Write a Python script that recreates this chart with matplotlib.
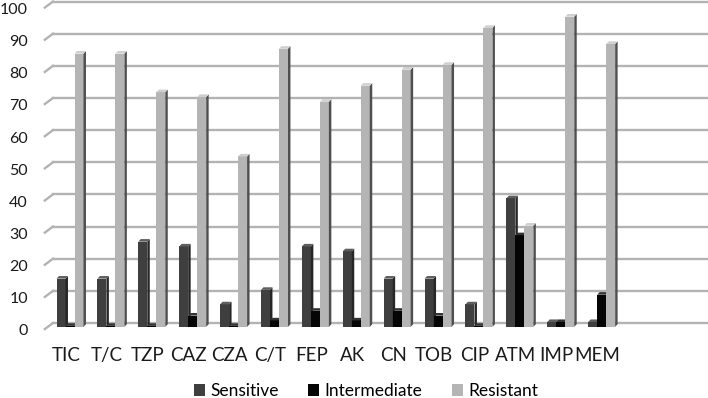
import matplotlib.pyplot as plt
from matplotlib.patches import Polygon
from matplotlib.transforms import ScaledTranslation, blended_transform_factory

categories = ['TIC', 'T/C', 'TZP', 'CAZ', 'CZA', 'C/T', 'FEP', 'AK', 'CN', 'TOB',
              'CIP', 'ATM', 'IMP', 'MEM']
sensitive = [15, 15, 26.5, 25, 7, 11.5, 25, 23.5, 15, 15, 7, 40, 1.5, 1.5]
intermediate = [0.3, 0.3, 0.3, 3.5, 0.3, 2, 5, 2, 5, 3.5, 0.3, 28.5, 1.5, 10]
resistant = [85, 85, 73, 71.5, 53, 86.5, 70, 75, 80, 81.5, 93, 31.5, 96.5, 88]
series_names = ['Sensitive', 'Intermediate', 'Resistant']

plt.rcParams['font.family'] = ['Lato', 'DejaVu Sans']

fig = plt.figure(figsize=(7.08, 3.98), dpi=100)
# axes spans floor (y=-1.5) to 100
ax = fig.add_axes([53 / 708, 70.2 / 398, 655 / 708, 326.3 / 398])
ax.set_xlim(-0.416, 15.6)
ax.set_ylim(-1.5, 100)

# back wall grid with a little perspective lead on the left
grid_c = '#b3b3b3'
blend = blended_transform_factory(ax.transAxes, ax.transData)
for gy in range(0, 101, 10):
    ax.plot([0, 1], [gy, gy], color=grid_c, lw=1.7, transform=blend,
            clip_on=False, zorder=1)
    ax.plot([0, -0.0125], [gy, gy - 1.9], color=grid_c, lw=1.7, transform=blend,
            clip_on=False, zorder=1)

# fake 3d columns: front face + right side + top, standing a bit in front of the wall
base = -1.2
width = 0.22
dx, dy = 0.06, 0.8
styles = [
    ('#3f3f3f', '#262626', '#5e5e5e'),
    ('#050505', '#000000', '#333333'),
    ('#b5b5b5', '#4f4f4f', '#cfcfcf'),
]
offsets = [-0.22, 0.0, 0.22]
for vals, off, (front, side, top), name in zip(
        [sensitive, intermediate, resistant], offsets, styles, series_names):
    xs = [i + off for i in range(len(categories))]
    ax.bar(xs, vals, width, bottom=base, color=front, label=name, zorder=3, linewidth=0)
    for x, h in zip(xs, vals):
        x0, x1 = x - width / 2, x + width / 2
        t = base + h
        ax.add_patch(Polygon([(x1, base), (x1 + dx, base + dy), (x1 + dx, t + dy), (x1, t)],
                             closed=True, color=side, lw=0, zorder=3))
        ax.add_patch(Polygon([(x0, t), (x0 + dx, t + dy), (x1 + dx, t + dy), (x1, t)],
                             closed=True, color=top, lw=0, zorder=3))

ax.set_xticks([i - 0.1 for i in range(len(categories))])
ax.set_xticklabels(categories, fontsize=13.5, color='#1a1a1a')
ax.set_yticks(range(0, 101, 10))
ax.tick_params(axis='y', length=0, pad=18, labelsize=11.5, labelcolor='#1a1a1a')
ax.tick_params(axis='x', length=0, pad=14)
for lab in ax.get_yticklabels():
    lab.set_transform(lab.get_transform() + ScaledTranslation(0, -7 / 100, fig.dpi_scale_trans))
for s in ax.spines.values():
    s.set_visible(False)

fig.legend(loc='center', bbox_to_anchor=(0.517, 0.018), ncol=3, frameon=False,
           fontsize=12.5, handlelength=0.65, handleheight=0.65, handletextpad=0.3,
           columnspacing=1.7, borderpad=0)

fig.savefig('out.png', dpi=100)
